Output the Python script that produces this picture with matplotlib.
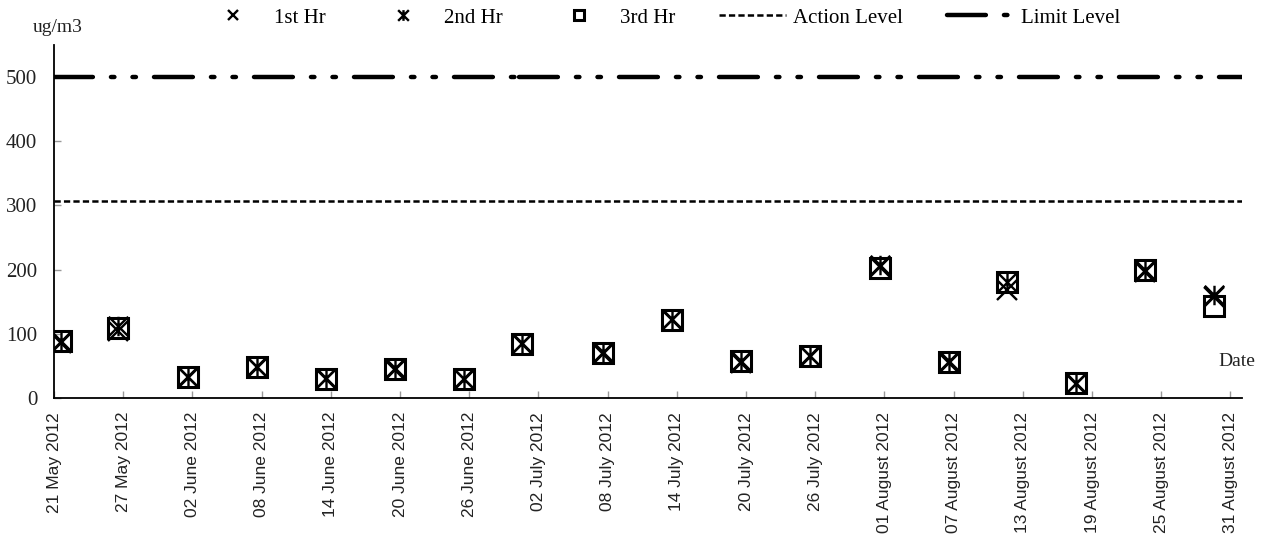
import matplotlib
matplotlib.use("Agg")
import matplotlib.pyplot as plt
import matplotlib.dates as mdates
from matplotlib.path import Path
import pandas as pd

plt.rcParams['lines.scale_dashes'] = False

dates = ['2012-05-21', '2012-05-26', '2012-06-01', '2012-06-07', '2012-06-13',
         '2012-06-19', '2012-06-25', '2012-06-30', '2012-07-07', '2012-07-13',
         '2012-07-19', '2012-07-25', '2012-07-31', '2012-08-06', '2012-08-11',
         '2012-08-17', '2012-08-23', '2012-08-29']
hr1 = [85, 105, 32, 48, 30, 44, 29, 84, 69, 122, 55, 65, 204, 54, 168, 22, 197, 158]
hr2 = [89, 112, 33, 49, 31, 46, 30, 85, 71, 123, 58, 66, 208, 57, 180, 23, 199, 161]
hr3 = [89, 109, 32, 49, 30, 45, 29, 84, 70, 122, 57, 65, 203, 56, 181, 23, 199, 144]
action_level = 307
limit_level = 500
level_dates = ['2012-05-21 00:00', '2012-06-30 08:00', '2012-09-01 00:00']
tick_dates = pd.date_range('2012-05-21', '2012-08-31', freq='6D')

x = pd.to_datetime(dates) + pd.Timedelta(hours=14)
lx = pd.to_datetime(level_dates, format='%Y-%m-%d %H:%M')

# asterisk: x with a vertical bar
star = Path([(-1, -1), (1, 1), (-1, 1), (1, -1), (0, -1), (0, 1)],
            [Path.MOVETO, Path.LINETO, Path.MOVETO, Path.LINETO, Path.MOVETO, Path.LINETO])

fig = plt.figure(figsize=(12.63, 5.36), dpi=100)
ax = fig.add_axes([54 / 1263, 1 - 398 / 536, 1188 / 1263, 353 / 536])

ax.plot(x, hr1, ls='none', marker='x', ms=14, mew=1.7, color='black', label='1st Hr')
ax.plot(x, hr2, ls='none', marker=star, ms=14, mew=1.7, color='black', label='2nd Hr')
ax.plot(x, hr3, ls='none', marker='s', ms=14, mew=2.2, mfc='none', mec='black', label='3rd Hr')

ax.plot(lx[:2], [action_level] * 2, color='black', lw=1.8, dashes=(4.5, 2.3),
        label='Action Level')
ax.plot(lx[1:], [action_level] * 2, color='black', lw=1.8, dashes=(4.5, 2.3))

limit_dash = (28, 13, 2.5, 13, 2.5, 13)
ax.plot(lx[:2], [limit_level] * 2, color='black', lw=3.2, dashes=limit_dash,
        dash_capstyle='round', label='Limit Level')
ax.plot(lx[1:], [limit_level] * 2, color='black', lw=3.2, dashes=limit_dash,
        dash_capstyle='round')

ax.set_xlim(pd.Timestamp('2012-05-21'), pd.Timestamp('2012-09-01'))
ax.set_ylim(0, 550)
ax.set_yticks([0, 100, 200, 300, 400, 500])
ax.set_xticks(tick_dates)
ax.xaxis.set_major_formatter(mdates.DateFormatter('%d %B %Y'))

for s in ['top', 'right']:
    ax.spines[s].set_visible(False)
for s in ['left', 'bottom']:
    ax.spines[s].set_linewidth(1.3)

ax.tick_params(axis='both', direction='in', length=5, color='#999999', width=1,
               labelcolor='#222222')
ax.tick_params(axis='y', pad=12, labelsize=15, labelfontfamily='Liberation Serif')
ax.tick_params(axis='x', pad=10, labelsize=12.5, labelfontfamily='Liberation Sans',
               labelrotation=90)

fig.text(33 / 1263, 1 - 27 / 536, 'ug/m3', family='Liberation Serif', fontsize=14,
         va='center', ha='left', color='#222222')
fig.text(1218 / 1263, 1 - 362 / 536, 'Date', family='Liberation Serif', fontsize=14,
         va='center', ha='left', color='#222222')

fig.legend(loc='center', bbox_to_anchor=(660 / 1263, 1 - 18 / 536), ncol=5,
           frameon=False, markerscale=0.55, handlelength=3.2, handletextpad=0.35,
           columnspacing=2.1, prop={'family': 'Liberation Serif', 'size': 15})

fig.savefig('out.png', dpi=100)
